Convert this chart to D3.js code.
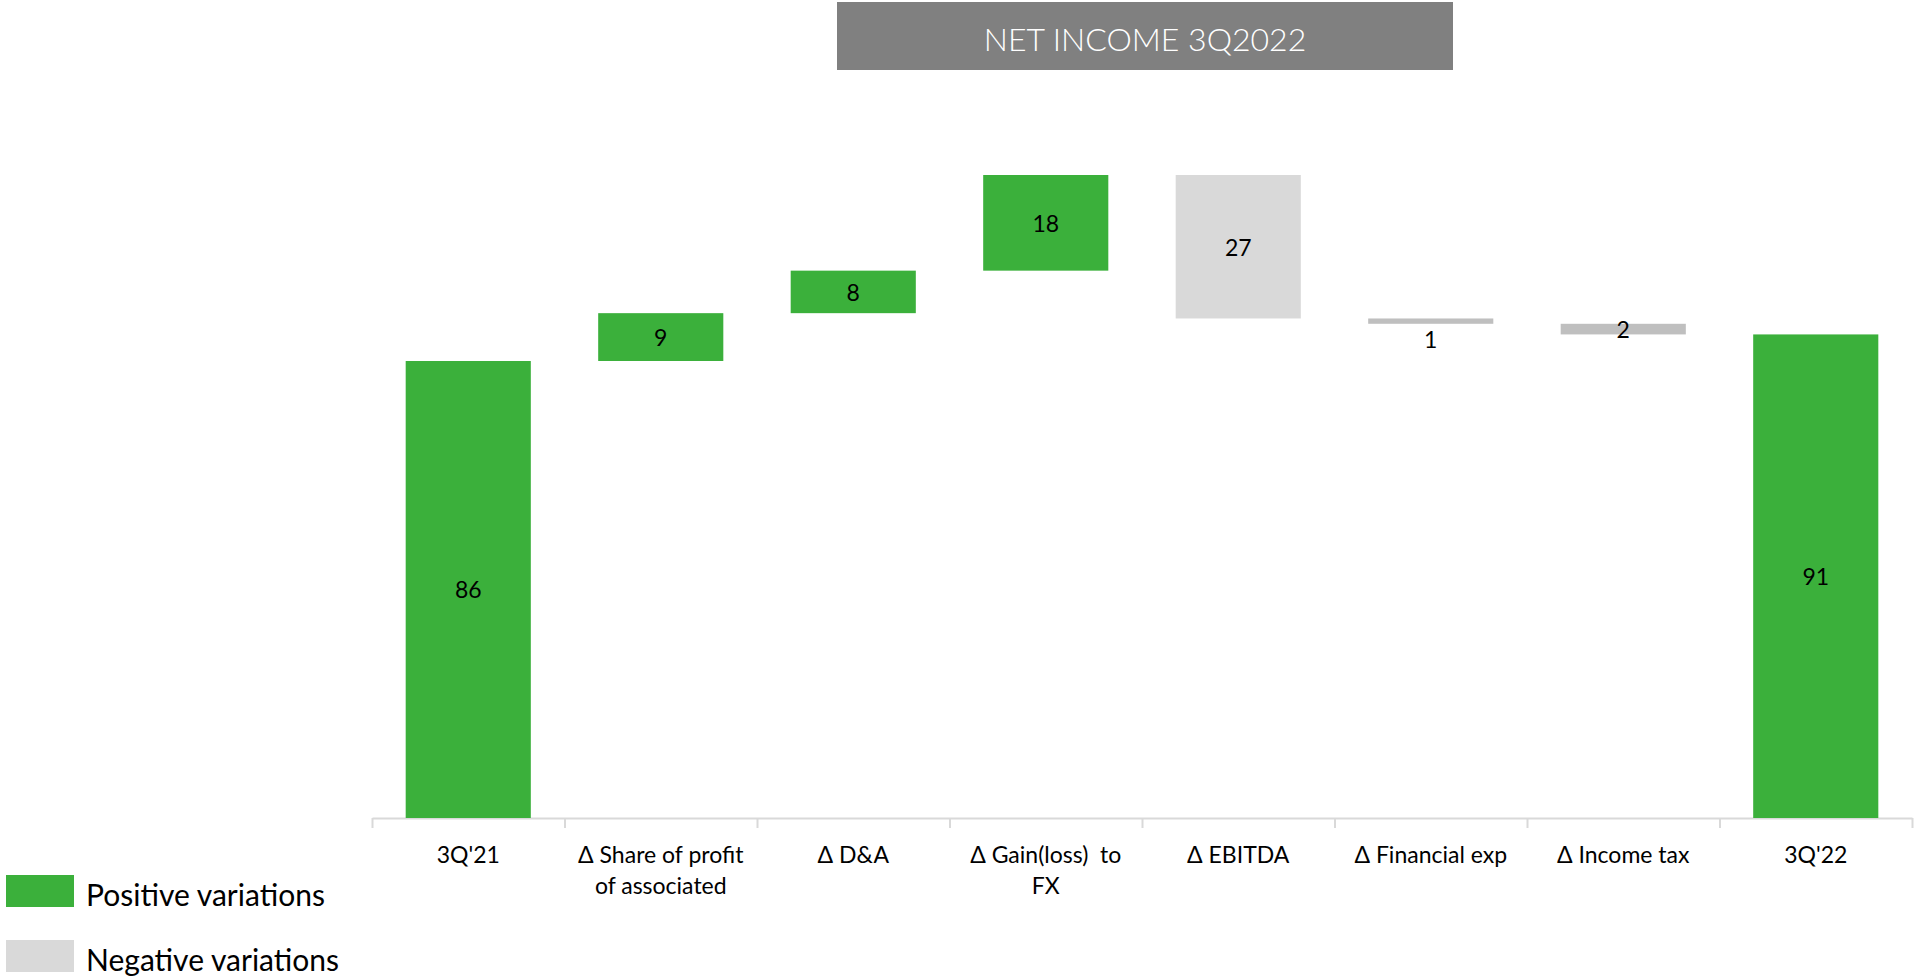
<!DOCTYPE html>
<html>
<head>
<meta charset="utf-8">
<script src="https://cdn.jsdelivr.net/npm/d3@7"></script>
<style>
  body { margin: 0; background: #fff; }
  text { font-family: Lato, "Open Sans", sans-serif; }
  .cat tspan { white-space: pre; }
</style>
</head>
<body>
<script>
// data
var categories = ["3Q'21", "Δ Share of profit\nof associated", "Δ D&A", "Δ Gain(loss)  to\nFX",
                  "Δ EBITDA", "Δ Financial exp", "Δ Income tax", "3Q'22"];
var values = [86, 9, 8, 18, -27, -1, -2, 91];
var kinds = ["total", "up", "up", "up", "down", "down", "down", "total"];
var legendLabels = ["Positive variations", "Negative variations"];
var title = "NET INCOME 3Q2022";

var W = 1914, H = 976;
var green = "#3bb03b", lightGray = "#d9d9d9", midGray = "#bfbfbf";

var svg = d3.select("body")
    .append("svg")
    .attr("width", W)
    .attr("height", H);

// waterfall start/end
var rows = [], run = 0;
values.forEach(function(v, i) {
    var r = {cat: categories[i], v: v, kind: kinds[i]};
    if (kinds[i] == "total") { r.y0 = 0; r.y1 = v; run = v; }
    else { r.y0 = run; r.y1 = run + v; run = run + v; }
    rows.push(r);
});

var x = d3.scaleBand().domain(categories).range([372, 1912]).paddingInner(0.35).paddingOuter(0.175);
var y = d3.scaleLinear().domain([0, 121]).range([818, 175]);

// title box
svg.append("rect")
    .attr("x", 837).attr("y", 2)
    .attr("width", 616).attr("height", 68)
    .attr("fill", "#808080");
svg.append("text")
    .attr("x", 1145).attr("y", 38)
    .attr("text-anchor", "middle")
    .attr("dominant-baseline", "central")
    .attr("fill", "#fff")
    .attr("font-size", 32)
    .attr("font-weight", 300)
    .text(title);

// axis with tick marks between categories
var tickScale = d3.scaleLinear().domain([0, categories.length]).range([372, 1912]);
var axis = svg.append("g")
    .attr("transform", "translate(0," + 818 + ")")
    .call(d3.axisBottom(tickScale).ticks(categories.length).tickFormat("").tickSize(10).tickSizeOuter(0));
axis.selectAll("path, line").attr("stroke", lightGray).attr("stroke-width", 2);

// category labels
var lab = svg.append("g").attr("class", "cat").selectAll("text")
    .data(categories)
    .enter().append("text")
    .attr("text-anchor", "middle")
    .attr("font-size", 23)
    .attr("fill", "#000")
    .attr("x", function(d) { return x(d) + x.bandwidth() / 2; })
    .attr("y", 863);
lab.selectAll("tspan")
    .data(function(d) { return d.split("\n"); })
    .enter().append("tspan")
    .attr("x", function() { var p = this.parentNode; return p.getAttribute("x"); })
    .attr("dy", function(d, i) { return i == 0 ? 0 : 31; })
    .text(function(d) { return d; });

function fillOf(d) {
    if (d.kind != "down") return green;
    return Math.abs(d.v) < 5 ? midGray : lightGray;
}

// bars
svg.append("g").selectAll("rect")
    .data(rows)
    .enter().append("rect")
    .attr("x", function(d) { return x(d.cat); })
    .attr("width", x.bandwidth())
    .attr("y", function(d) { return y(Math.max(d.y0, d.y1)); })
    .attr("height", function(d) { return Math.abs(y(d.y0) - y(d.y1)); })
    .attr("fill", fillOf);

// value labels
svg.append("g").selectAll("text")
    .data(rows)
    .enter().append("text")
    .attr("text-anchor", "middle")
    .attr("dominant-baseline", "central")
    .attr("font-size", 23)
    .attr("fill", "#000")
    .attr("x", function(d) { return x(d.cat) + x.bandwidth() / 2; })
    .attr("y", function(d) {
        var top = y(Math.max(d.y0, d.y1)), bot = y(Math.min(d.y0, d.y1));
        if (bot - top < 8) return bot + 15; // too thin, put under the bar
        return (top + bot) / 2;
    })
    .text(function(d) { return Math.abs(d.v); });

// legend
var leg = svg.append("g").selectAll("g")
    .data(legendLabels)
    .enter().append("g")
    .attr("transform", function(d, i) { return "translate(6," + (875 + i * 65) + ")"; });
leg.append("rect")
    .attr("width", 68).attr("height", 32)
    .attr("fill", function(d, i) { return i == 0 ? green : lightGray; });
leg.append("text")
    .attr("x", 80).attr("y", 19)
    .attr("dominant-baseline", "central")
    .attr("font-size", 30)
    .attr("fill", "#000")
    .text(function(d) { return d; });
</script>
</body>
</html>
